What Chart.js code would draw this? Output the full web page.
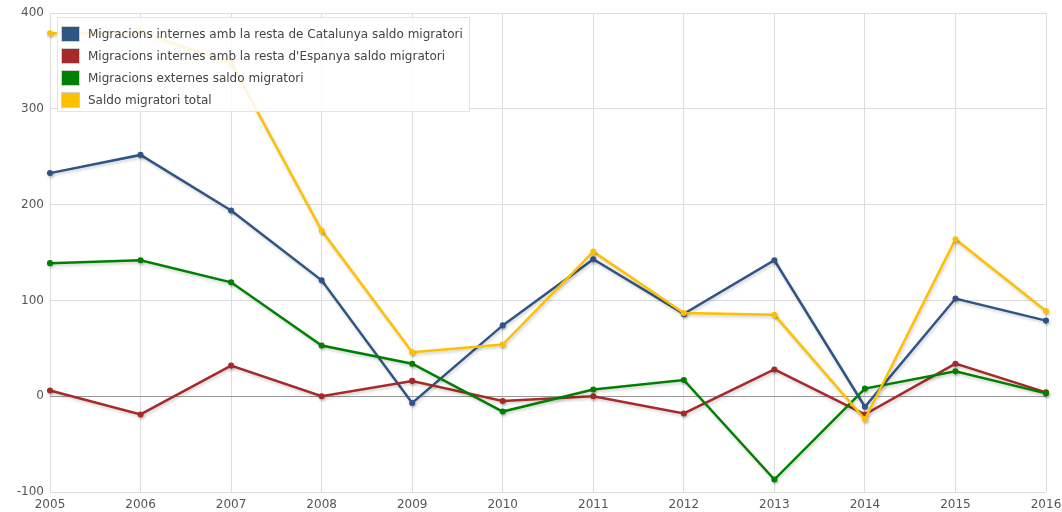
<!DOCTYPE html>
<html>
<head>
<meta charset="utf-8">
<script src="https://cdn.jsdelivr.net/npm/chart.js@4"></script>
<style>
    html, body { margin: 0; padding: 0; background: #fff; }
    #wrap { position: relative; width: 1062px; height: 512px; }
    #legend {
        position: absolute; left: 57px; top: 17px; width: 413px; height: 95px;
        background: rgba(255, 255, 255, 0.85); border: 1px solid #e4e4e4;
        box-sizing: border-box; padding: 5px 0 0 3px;
        font-family: 'DejaVu Sans', Verdana, sans-serif; font-size: 12px; color: #444;
    }
    .item { height: 22px; display: flex; align-items: center; }
    .swatch { width: 17px; height: 14px; border: 1px solid #cfcfcf; margin-right: 8px; box-sizing: content-box; }
</style>
</head>
<body>
<div id="wrap">
    <canvas id="chart" width="1062" height="512"></canvas>
    <div id="legend"></div>
</div>
<script>
// dades
const years = ['2005', '2006', '2007', '2008', '2009', '2010', '2011', '2012', '2013', '2014', '2015', '2016'];
const catalunya = [233, 252, 194, 121, -7, 74, 143, 86, 142, -11, 102, 79];
const espanya = [6, -19, 32, 0, 16, -5, 0, -18, 28, -19, 34, 4];
const externes = [139, 142, 119, 53, 34, -16, 7, 17, -87, 8, 26, 3];
const total = [379, 380, 348, 173, 46, 54, 151, 87, 85, -24, 164, 89];
const yTicks = [-100, 0, 100, 200, 300, 400];

const series = [
    { label: 'Migracions internes amb la resta de Catalunya saldo migratori', data: catalunya, color: '#2f5585' },
    { label: "Migracions internes amb la resta d'Espanya saldo migratori", data: espanya, color: '#a52a2a' },
    { label: 'Migracions externes saldo migratori', data: externes, color: '#008000' },
    { label: 'Saldo migratori total', data: total, color: '#ffc000' }
];

// ombra sota les línies
const shadowPlugin = {
    id: 'shadow',
    beforeDatasetDraw(chart) {
        const ctx = chart.ctx;
        ctx.save();
        ctx.shadowColor = 'rgba(0, 0, 0, 0.18)';
        ctx.shadowBlur = 3;
        ctx.shadowOffsetX = 1;
        ctx.shadowOffsetY = 2;
    },
    afterDatasetDraw(chart) {
        chart.ctx.restore();
    }
};

const font = { family: "'DejaVu Sans', Verdana, sans-serif", size: 12 };

new Chart(document.getElementById('chart'), {
    type: 'line',
    data: {
        labels: years,
        datasets: series.map(s => ({
            label: s.label,
            data: s.data,
            borderColor: s.color,
            backgroundColor: s.color,
            borderWidth: 2.5,
            pointRadius: 1.8,
            pointHoverRadius: 3,
            tension: 0,
            fill: false
        })).reverse()
    },
    options: {
        responsive: false,
        animation: false,
        layout: { padding: { top: 13, right: 16, left: 0, bottom: 0 } },
        plugins: {
            legend: { display: false },
            tooltip: { enabled: false }
        },
        scales: {
            x: {
                offset: false,
                grid: { color: '#dddddd', drawTicks: false },
                border: { display: false },
                ticks: { color: '#555', font: font, padding: 6, maxRotation: 0 },
                afterFit: (axis) => { axis.height = 20; axis.paddingRight = 0; }
            },
            y: {
                min: -100,
                max: 400,
                afterBuildTicks: (axis) => { axis.ticks = yTicks.map(v => ({ value: v })); },
                grid: {
                    color: (c) => c.tick && c.tick.value === 0 ? '#999999' : '#dddddd',
                    drawTicks: false
                },
                border: { display: false },
                ticks: { color: '#555', font: font, padding: 6 },
                afterFit: (axis) => { axis.width = 50; }
            }
        }
    },
    plugins: [shadowPlugin]
});

// llegenda
const legend = document.getElementById('legend');
legend.innerHTML = series.map(s => `
    <div class="item"><span class="swatch" style="background:${s.color}"></span>${s.label}</div>
`).join('');
</script>
</body>
</html>
